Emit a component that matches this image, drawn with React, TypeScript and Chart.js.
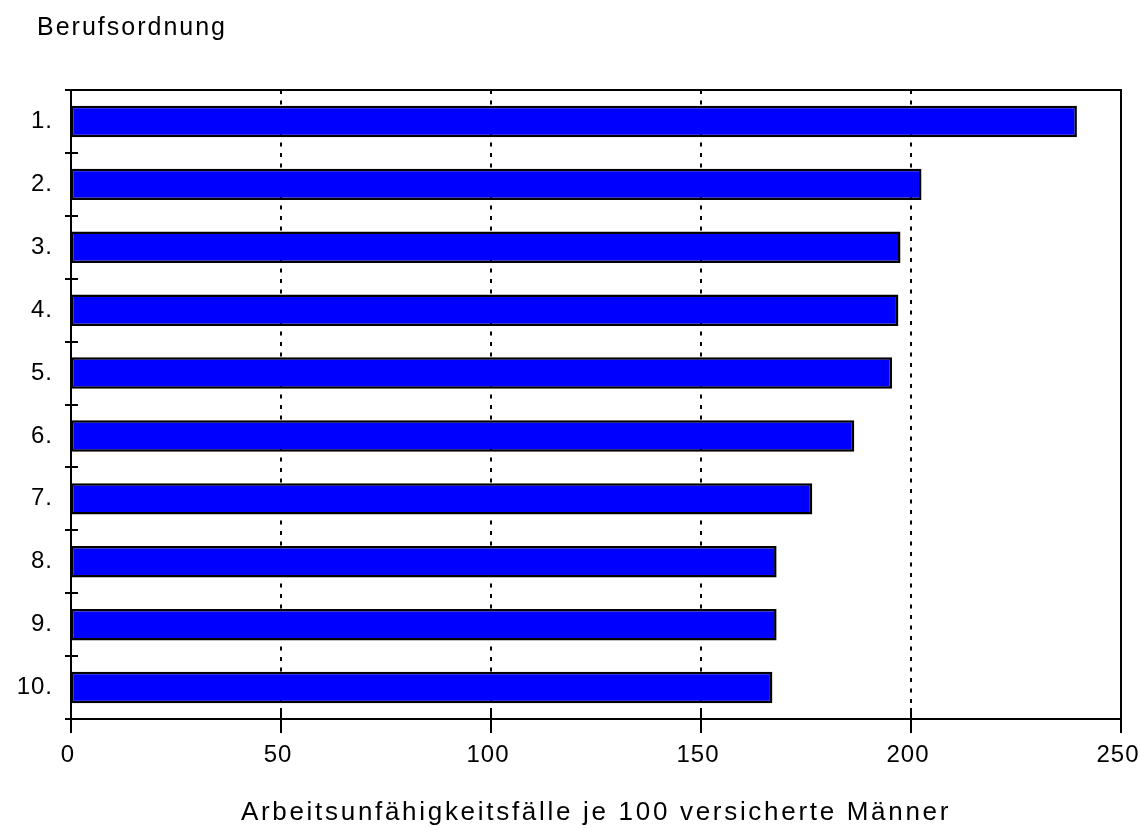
import React, { useEffect, useRef } from "react";
import { Chart, registerables } from "chart.js";

Chart.register(...registerables);

const categories = ["1.", "2.", "3.", "4.", "5.", "6.", "7.", "8.", "9.", "10."];
const values = [239.5, 202.5, 197.5, 197, 195.5, 186.5, 176.5, 168, 168, 167];
const xTicks = [0, 50, 100, 150, 200, 250];
const gridValues = [50, 100, 150, 200];
const yAxisTitle = "Berufsordnung";
const xAxisTitle = "Arbeitsunfähigkeitsfälle je 100 versicherte Männer";

const FONT = "Arial, 'Liberation Sans', sans-serif";
const TICK_SPACING = "1px";
const TITLE_SPACING = "2.7px";

const framePlugin = {
  id: "framePlugin",
  beforeUpdate(chart: any) {
    chart.ctx.letterSpacing = TICK_SPACING;
  },
  beforeDraw(chart: any) {
    chart.ctx.letterSpacing = TITLE_SPACING;
  },
  beforeDatasetsDraw(chart: any) {
    const { ctx, chartArea, scales } = chart;
    const x = scales.x;
    ctx.save();
    ctx.strokeStyle = "#000";
    ctx.lineWidth = 2;
    ctx.setLineDash([4, 6.5]);
    gridValues.forEach((v) => {
      const px = Math.round(x.getPixelForValue(v));
      ctx.beginPath();
      ctx.moveTo(px, chartArea.top);
      ctx.lineTo(px, chartArea.bottom);
      ctx.stroke();
    });
    ctx.restore();
  },
  afterDatasetsDraw(chart: any) {
    const { ctx, chartArea, scales } = chart;
    const x = scales.x;
    const { left, right, top, bottom } = chartArea;
    ctx.save();
    ctx.strokeStyle = "#000";
    ctx.lineWidth = 2;
    ctx.setLineDash([]);
    ctx.strokeRect(left, top, right - left, bottom - top);
    xTicks.forEach((v) => {
      const px = Math.round(x.getPixelForValue(v));
      ctx.beginPath();
      ctx.moveTo(px, bottom - 11);
      ctx.lineTo(px, bottom + 14);
      ctx.stroke();
    });
    const n = categories.length;
    const step = (bottom - top) / n;
    for (let i = 0; i <= n; i++) {
      const py = Math.round(top + i * step);
      ctx.beginPath();
      ctx.moveTo(left - 6, py);
      ctx.lineTo(left + 7, py);
      ctx.stroke();
    }
    ctx.fillStyle = "#000";
    ctx.font = `25px ${FONT}`;
    ctx.letterSpacing = "2px";
    ctx.textBaseline = "alphabetic";
    ctx.textAlign = "left";
    ctx.fillText(yAxisTitle, 37, 35);
    ctx.restore();
    ctx.letterSpacing = TICK_SPACING;
  },
};

export default function App() {
  const ref = useRef<HTMLCanvasElement>(null);
  useEffect(() => {
    if (!ref.current) return;
    const chart = new Chart(ref.current, {
      type: "bar",
      data: {
        labels: categories,
        datasets: [
          {
            data: values,
            backgroundColor: "#0000FF",
            borderColor: "#000000",
            borderWidth: 2.5,
            borderSkipped: false,
            barPercentage: 0.5,
            categoryPercentage: 1,
          },
        ],
      },
      options: {
        indexAxis: "y",
        animation: false,
        responsive: false,
        maintainAspectRatio: false,
        layout: { padding: { left: 0, right: 19, top: 90, bottom: 0 } },
        plugins: {
          legend: { display: false },
          tooltip: { enabled: false },
          title: { display: false },
        },
        scales: {
          x: {
            type: "linear",
            min: 0,
            max: 250,
            afterBuildTicks(scale: any) {
              scale.ticks = xTicks.map((v) => ({ value: v }));
            },
            afterFit(scale: any) {
              scale.height = 111;
              scale.paddingLeft = 0;
              scale.paddingRight = 0;
            },
            grid: { display: false, drawTicks: false },
            border: { display: false },
            ticks: {
              color: "#000",
              padding: 22,
              z: 1,
              labelOffset: -3,
              font: { family: FONT, size: 24 },
              maxRotation: 0,
            },
            title: {
              display: true,
              text: xAxisTitle,
              color: "#000",
              font: { family: FONT, size: 26 },
              padding: { top: 0, bottom: 2 },
            },
          },
          y: {
            type: "category",
            afterFit(scale: any) {
              scale.width = 71;
              scale.paddingTop = 0;
              scale.paddingBottom = 0;
            },
            grid: { display: false, drawTicks: false },
            border: { display: false },
            ticks: {
              color: "#000",
              padding: 18,
              z: 1,
              font: { family: FONT, size: 24 },
            },
          },
        },
      },
      plugins: [framePlugin],
    });
    return () => chart.destroy();
  }, []);
  return (
    <div style={{ position: "absolute", left: 0, top: 0, width: 1140, height: 830, background: "#fff" }}>
      <canvas ref={ref} width={1140} height={830} />
    </div>
  );
}
